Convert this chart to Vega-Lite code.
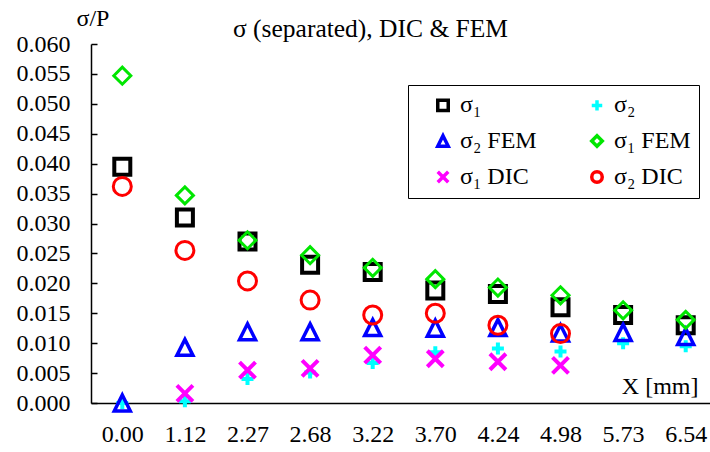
{
  "$schema": "https://vega.github.io/schema/vega-lite/v6.json",
  "width": 619,
  "height": 359,
  "autosize": {"type": "none"},
  "padding": {"left": 91, "top": 44, "right": 0, "bottom": 49},
  "background": "white",
  "config": {
    "view": {"stroke": null},
    "font": "Liberation Serif",
    "axis": {"labelFont": "Liberation Serif", "titleFont": "Liberation Serif", "labelColor": "black", "titleColor": "black", "labelFontSize": 24, "titleFontSize": 24, "titleFontWeight": "normal", "domainColor": "black", "domainWidth": 1.5, "tickColor": "black", "grid": false},
    "legend": {"labelFont": "Liberation Serif", "labelFontSize": 24, "labelColor": "black"}
  },
  "title": {"text": "σ (separated), DIC & FEM", "font": "Liberation Serif", "fontSize": 25.5, "fontWeight": "normal", "color": "black", "anchor": "middle", "dx": -30, "dy": 40},
  "data": {"values": [
    {"X": "0.00", "s": "σ₁", "v": 0.0395},
    {"X": "1.12", "s": "σ₁", "v": 0.0310},
    {"X": "2.27", "s": "σ₁", "v": 0.0270},
    {"X": "2.68", "s": "σ₁", "v": 0.0231},
    {"X": "3.22", "s": "σ₁", "v": 0.0219},
    {"X": "3.70", "s": "σ₁", "v": 0.0188},
    {"X": "4.24", "s": "σ₁", "v": 0.0182},
    {"X": "4.98", "s": "σ₁", "v": 0.0160},
    {"X": "5.73", "s": "σ₁", "v": 0.0147},
    {"X": "6.54", "s": "σ₁", "v": 0.0130},
    {"X": "0.00", "s": "σ₂", "v": 0.0000},
    {"X": "1.12", "s": "σ₂", "v": 0.0003},
    {"X": "2.27", "s": "σ₂", "v": 0.0040},
    {"X": "2.68", "s": "σ₂", "v": 0.0051},
    {"X": "3.22", "s": "σ₂", "v": 0.0067},
    {"X": "3.70", "s": "σ₂", "v": 0.0085},
    {"X": "4.24", "s": "σ₂", "v": 0.0091},
    {"X": "4.98", "s": "σ₂", "v": 0.0086},
    {"X": "5.73", "s": "σ₂", "v": 0.0100},
    {"X": "6.54", "s": "σ₂", "v": 0.0095},
    {"X": "0.00", "s": "σ₂ FEM", "v": 0.0000},
    {"X": "1.12", "s": "σ₂ FEM", "v": 0.0093},
    {"X": "2.27", "s": "σ₂ FEM", "v": 0.0119},
    {"X": "2.68", "s": "σ₂ FEM", "v": 0.0119},
    {"X": "3.22", "s": "σ₂ FEM", "v": 0.0126},
    {"X": "3.70", "s": "σ₂ FEM", "v": 0.0125},
    {"X": "4.24", "s": "σ₂ FEM", "v": 0.0126},
    {"X": "4.98", "s": "σ₂ FEM", "v": 0.0117},
    {"X": "5.73", "s": "σ₂ FEM", "v": 0.0118},
    {"X": "6.54", "s": "σ₂ FEM", "v": 0.0111},
    {"X": "0.00", "s": "σ₁ FEM", "v": 0.0547},
    {"X": "1.12", "s": "σ₁ FEM", "v": 0.0347},
    {"X": "2.27", "s": "σ₁ FEM", "v": 0.0272},
    {"X": "2.68", "s": "σ₁ FEM", "v": 0.0247},
    {"X": "3.22", "s": "σ₁ FEM", "v": 0.0226},
    {"X": "3.70", "s": "σ₁ FEM", "v": 0.0207},
    {"X": "4.24", "s": "σ₁ FEM", "v": 0.0193},
    {"X": "4.98", "s": "σ₁ FEM", "v": 0.0180},
    {"X": "5.73", "s": "σ₁ FEM", "v": 0.0155},
    {"X": "6.54", "s": "σ₁ FEM", "v": 0.0139},
    {"X": "1.12", "s": "σ₁ DIC", "v": 0.0016},
    {"X": "2.27", "s": "σ₁ DIC", "v": 0.0055},
    {"X": "2.68", "s": "σ₁ DIC", "v": 0.0058},
    {"X": "3.22", "s": "σ₁ DIC", "v": 0.0080},
    {"X": "3.70", "s": "σ₁ DIC", "v": 0.0074},
    {"X": "4.24", "s": "σ₁ DIC", "v": 0.0069},
    {"X": "4.98", "s": "σ₁ DIC", "v": 0.0063},
    {"X": "0.00", "s": "σ₂ DIC", "v": 0.0362},
    {"X": "1.12", "s": "σ₂ DIC", "v": 0.0255},
    {"X": "2.27", "s": "σ₂ DIC", "v": 0.0204},
    {"X": "2.68", "s": "σ₂ DIC", "v": 0.0172},
    {"X": "3.22", "s": "σ₂ DIC", "v": 0.0147},
    {"X": "3.70", "s": "σ₂ DIC", "v": 0.0150},
    {"X": "4.24", "s": "σ₂ DIC", "v": 0.0130},
    {"X": "4.98", "s": "σ₂ DIC", "v": 0.0116}
  ]},
  "mark": {"type": "point", "filled": false, "opacity": 1},
  "encoding": {
    "x": {
      "field": "X", "type": "ordinal",
      "sort": ["0.00", "1.12", "2.27", "2.68", "3.22", "3.70", "4.24", "4.98", "5.73", "6.54"],
      "scale": {"type": "point", "padding": 0.444, "align": 0.563},
      "axis": {"title": "X [mm]", "titleAngle": 0, "titleAlign": "right", "titleBaseline": "alphabetic", "titleX": 607, "titleY": -10, "labelAngle": 0, "ticks": false, "labelPadding": 19}
    },
    "y": {
      "field": "v", "type": "quantitative",
      "scale": {"domain": [0, 0.06], "nice": false, "zero": true},
      "axis": {"title": "σ/P", "titleAngle": 0, "titleAlign": "left", "titleBaseline": "alphabetic", "titleX": -15, "titleY": -19, "values": [0, 0.005, 0.01, 0.015, 0.02, 0.025, 0.03, 0.035, 0.04, 0.045, 0.05, 0.055, 0.06], "format": ".3f", "tickSize": -6, "tickWidth": 1.5, "labelPadding": 27}
    },
    "color": {
      "field": "s", "type": "nominal",
      "scale": {"domain": ["σ₁", "σ₂ FEM", "σ₁ DIC", "σ₂", "σ₁ FEM", "σ₂ DIC"], "range": ["#000000", "#0000FF", "#FF00FF", "#00FFFF", "#00E600", "#FF0000"]},
      "legend": {"title": null, "orient": "none", "legendX": 317, "legendY": 41, "columns": 2, "columnPadding": 33, "rowPadding": 10, "padding": 8, "strokeColor": "black", "fillColor": "white", "symbolSize": 110, "symbolStrokeWidth": 3.5, "symbolOffset": 15, "labelOffset": 5}
    },
    "shape": {
      "field": "s", "type": "nominal",
      "scale": {"domain": ["σ₁", "σ₂ FEM", "σ₁ DIC", "σ₂", "σ₁ FEM", "σ₂ DIC"], "range": ["square", "M0,-1L1,1L-1,1Z", "M-1,-1L1,1M-1,1L1,-1", "M-1,0L1,0M0,-1L0,1", "diamond", "circle"]}
    },
    "size": {
      "field": "s", "type": "nominal", "legend": null,
      "scale": {"type": "ordinal", "domain": ["σ₁", "σ₂", "σ₂ FEM", "σ₁ FEM", "σ₁ DIC", "σ₂ DIC"], "range": [256, 144, 256, 289, 256, 324]}
    },
    "strokeWidth": {
      "field": "s", "type": "nominal", "legend": null,
      "scale": {"type": "ordinal", "domain": ["σ₁", "σ₂", "σ₂ FEM", "σ₁ FEM", "σ₁ DIC", "σ₂ DIC"], "range": [4, 4, 3.5, 3, 4, 3]}
    }
  }
}
